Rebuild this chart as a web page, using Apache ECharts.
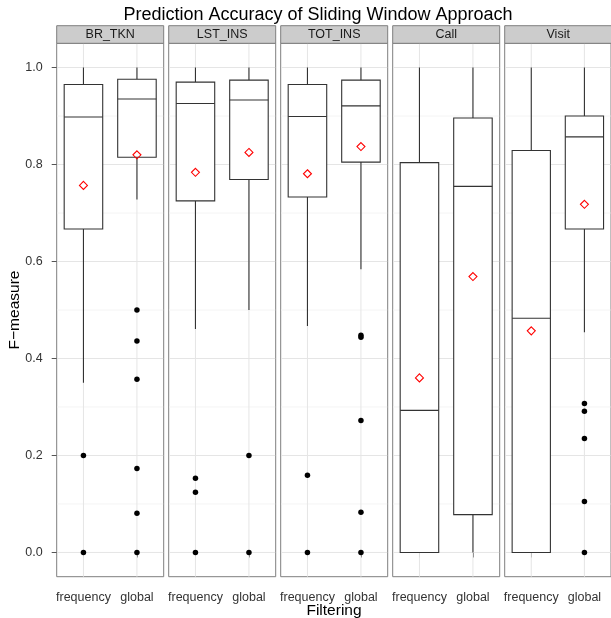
<!DOCTYPE html>
<html>
<head>
<meta charset="utf-8">
<script src="https://cdn.jsdelivr.net/npm/echarts@6/dist/echarts.min.js"></script>
<style>
html,body{margin:0;padding:0;background:#fff;}
#chart{width:611px;height:618px;}
</style>
</head>
<body>
<div id="chart"></div>
<script>
// ---- data ----
const panelNames = ['BR_TKN', 'LST_INS', 'TOT_INS', 'Call', 'Visit'];
const filterNames = ['frequency', 'global'];
const majorBreaks = [0, 0.2, 0.4, 0.6, 0.8, 1.0];
const minorBreaks = [0.1, 0.3, 0.5, 0.7, 0.9];

const freqLow    = [0.350, 0.461, 0.467, 0.000, 0.000];
const freqQ1     = [0.667, 0.725, 0.733, 0.000, 0.000];
const freqMedian = [0.898, 0.926, 0.899, 0.293, 0.483];
const freqQ3     = [0.965, 0.970, 0.965, 0.804, 0.829];
const freqHigh   = [1.000, 1.000, 1.000, 1.000, 1.000];
const freqMean   = [0.757, 0.784, 0.781, 0.360, 0.457];

const globalLow    = [0.728, 0.500, 0.584, 0.000, 0.454];
const globalQ1     = [0.815, 0.769, 0.805, 0.078, 0.667];
const globalMedian = [0.935, 0.933, 0.921, 0.755, 0.857];
const globalQ3     = [0.976, 0.974, 0.974, 0.896, 0.900];
const globalHigh   = [1.000, 1.000, 1.000, 1.000, 1.000];
const globalMean   = [0.820, 0.825, 0.837, 0.569, 0.718];

const freqOutliers   = [[0.2, 0], [0.153, 0.124, 0], [0.159, 0], [], []];
const globalOutliers = [[0.5, 0.436, 0.357, 0.173, 0.081, 0], [0.2, 0], [0.448, 0.444, 0.272, 0.083, 0], [], [0.307, 0.291, 0.235, 0.105, 0]];

// ---- layout ----
const FONT = 'Liberation Sans, Arial, Helvetica, sans-serif';
const L0 = 56.7, PW = 107, PITCH = 112, TOP = 43.3, BOT = 576.7;
const STRIP_TOP = 25.7;

const chart = echarts.init(document.getElementById('chart'), null, {renderer: 'canvas'});

const grids = [], xAxes = [], yAxes = [], series = [], graphics = [];

function renderGridLines(params, api) {
  const cs = params.coordSys;
  const kind = api.value(2);
  let shape, color;
  if (kind === 2) {
    const x = api.coord([api.value(0), 0])[0];
    shape = {x1: x, y1: cs.y, x2: x, y2: cs.y + cs.height};
    color = '#e5e5e5';
  } else {
    const y = api.coord([0, api.value(1)])[1];
    shape = {x1: cs.x + 0.5, y1: y, x2: cs.x + cs.width - 0.5, y2: y};
    color = kind === 0 ? '#e5e5e5' : '#f4f4f4';
  }
  return {type: 'line', shape: shape, style: {stroke: color, lineWidth: 1}, silent: true};
}

function renderBox(params, api) {
  const cat = api.value(0);
  const xc = api.coord([cat, 0])[0];
  const bw = api.size([1, 0])[0] * 0.72;
  const yl = api.coord([cat, api.value(1)])[1];
  const y1 = api.coord([cat, api.value(2)])[1];
  const ym = api.coord([cat, api.value(3)])[1];
  const y3 = api.coord([cat, api.value(4)])[1];
  const yh = api.coord([cat, api.value(5)])[1];
  const st = {stroke: '#333333', lineWidth: 1.1};
  return {
    type: 'group',
    children: [
      {type: 'line', shape: {x1: xc, y1: yh, x2: xc, y2: y3}, style: st},
      {type: 'line', shape: {x1: xc, y1: y1, x2: xc, y2: yl}, style: st},
      {type: 'rect', shape: {x: xc - bw / 2, y: y3, width: bw, height: y1 - y3}, style: {fill: '#ffffff', stroke: '#333333', lineWidth: 1.1}},
      {type: 'line', shape: {x1: xc - bw / 2, y1: ym, x2: xc + bw / 2, y2: ym}, style: st}
    ]
  };
}

panelNames.forEach(function (name, i) {
  const left = L0 + i * PITCH;
  grids.push({left: left, top: TOP, width: PW, height: BOT - TOP, show: true,
    backgroundColor: '#ffffff', borderColor: '#7f7f7f', borderWidth: 1, containLabel: false});
  xAxes.push({
    type: 'category', gridIndex: i, data: filterNames, boundaryGap: true,
    axisLine: {show: false},
    axisTick: {show: true, alignWithLabel: true, length: 5, lineStyle: {color: '#555555'}},
    axisLabel: {show: true, color: '#333333', fontSize: 12.5, fontFamily: FONT, margin: 14, interval: 0},
    splitLine: {show: false}
  });
  yAxes.push({
    type: 'value', gridIndex: i, min: -0.05, max: 1.05,
    axisLine: {show: false},
    axisTick: {show: i === 0, length: 5, customValues: majorBreaks, lineStyle: {color: '#555555'}},
    axisLabel: {show: i === 0, customValues: majorBreaks, color: '#333333', fontSize: 12.5, fontFamily: FONT, margin: 14,
      formatter: function (v) { return Number(v).toFixed(1); }},
    splitLine: {show: false}
  });

  const gl = [];
  majorBreaks.forEach(function (v) { gl.push([0, v, 0]); });
  minorBreaks.forEach(function (v) { gl.push([0, v, 1]); });
  filterNames.forEach(function (f, k) { gl.push([k, 0, 2]); });
  series.push({type: 'custom', xAxisIndex: i, yAxisIndex: i, z: 1, silent: true,
    renderItem: renderGridLines, data: gl, encode: {x: 0, y: 1}, clip: false});

  series.push({type: 'custom', xAxisIndex: i, yAxisIndex: i, z: 2, silent: true,
    renderItem: renderBox, encode: {x: 0, y: [1, 2, 3, 4, 5]},
    data: [
      [0, freqLow[i], freqQ1[i], freqMedian[i], freqQ3[i], freqHigh[i]],
      [1, globalLow[i], globalQ1[i], globalMedian[i], globalQ3[i], globalHigh[i]]
    ]});

  const outs = [];
  freqOutliers[i].forEach(function (v) { outs.push([0, v]); });
  globalOutliers[i].forEach(function (v) { outs.push([1, v]); });
  series.push({type: 'scatter', xAxisIndex: i, yAxisIndex: i, z: 3, silent: true,
    symbol: 'circle', symbolSize: 5.5, itemStyle: {color: '#000000', opacity: 1}, data: outs});

  series.push({type: 'scatter', xAxisIndex: i, yAxisIndex: i, z: 4, silent: true,
    symbol: 'diamond', symbolSize: [8, 8],
    itemStyle: {color: 'rgba(0,0,0,0)', borderColor: '#ff0000', borderWidth: 1.1, opacity: 1},
    data: [[0, freqMean[i]], [1, globalMean[i]]]});

  graphics.push({type: 'rect', shape: {x: left, y: STRIP_TOP, width: PW, height: TOP - STRIP_TOP},
    style: {fill: '#cccccc', stroke: '#7f7f7f', lineWidth: 1}, z: 10, silent: true});
  graphics.push({type: 'text', x: left + PW / 2, y: (STRIP_TOP + TOP) / 2 + 0.5, z: 11, silent: true,
    style: {text: name, fill: '#1a1a1a', font: '12.5px ' + FONT, textAlign: 'center', textVerticalAlign: 'middle'}});
});

graphics.push({type: 'text', x: 318, y: 15, silent: true,
  style: {text: 'Prediction Accuracy of Sliding Window Approach', fill: '#000000', font: '18px ' + FONT, textAlign: 'center', textVerticalAlign: 'middle'}});
graphics.push({type: 'text', x: 334, y: 611, silent: true,
  style: {text: 'Filtering', fill: '#000000', font: '15.5px ' + FONT, textAlign: 'center', textVerticalAlign: 'middle'}});
graphics.push({type: 'text', x: 15, y: 310, rotation: Math.PI / 2, silent: true,
  style: {text: 'F\u2212measure', fill: '#000000', font: '15.5px ' + FONT, textAlign: 'center', textVerticalAlign: 'middle'}});

chart.setOption({
  animation: false,
  backgroundColor: '#ffffff',
  grid: grids,
  xAxis: xAxes,
  yAxis: yAxes,
  series: series,
  graphic: graphics
});
</script>
</body>
</html>
